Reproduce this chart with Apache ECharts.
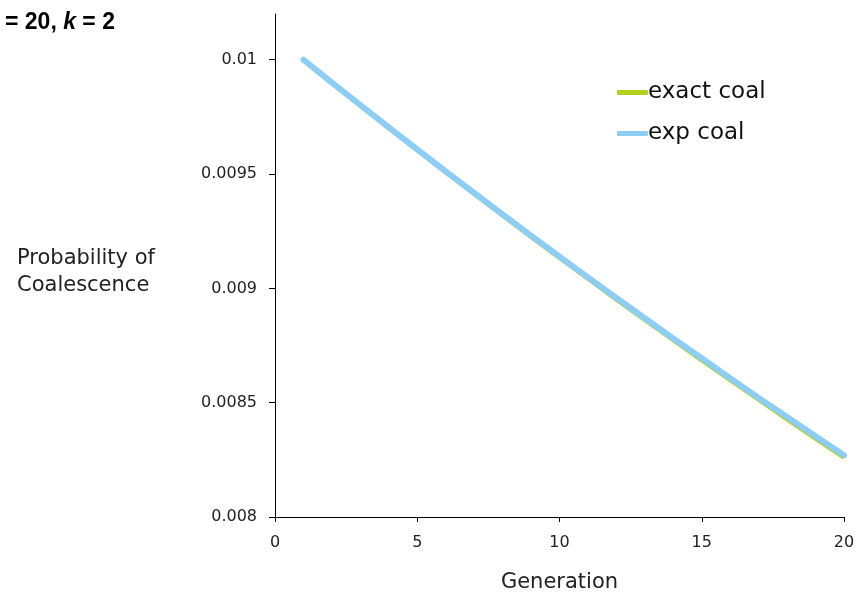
<!DOCTYPE html>
<html><head><meta charset="utf-8">
<script src="https://cdn.jsdelivr.net/npm/echarts@6/dist/echarts.min.js"></script>
<style>html,body{margin:0;padding:0;background:#fff}#c{width:858px;height:599px}</style>
</head><body><div id="c"></div>
<script>
const generations = [1,2,3,4,5,6,7,8,9,10,11,12,13,14,15,16,17,18,19,20];
const exactCoal = [0.01,0.0099,0.009801,0.009703,0.009606,0.00951,0.009415,0.009321,0.009227,0.009135,0.009044,0.008953,0.008864,0.008775,0.008687,0.008601,0.008515,0.008429,0.008345,0.008262];
const expCoal = [0.01,0.0099,0.009802,0.009704,0.009608,0.009512,0.009418,0.009324,0.009231,0.009139,0.009048,0.008958,0.008869,0.008781,0.008694,0.008607,0.008521,0.008437,0.008353,0.00827];
const yTicks = [0.008,0.0085,0.009,0.0095,0.01];
const FONT = 'DejaVu Sans';
const chart = echarts.init(document.getElementById('c'));
chart.setOption({
  animation:false,
  title:{left:0,top:6,text:'{a|= 20, }{b|k}{a| = 2}',textStyle:{rich:{
    a:{fontFamily:'Liberation Sans',fontWeight:'bold',fontSize:23,color:'#000'},
    b:{fontFamily:'Liberation Sans',fontWeight:'bold',fontStyle:'italic',fontSize:23,color:'#000'}}}},
  grid:{left:275,right:14,top:14,bottom:82,containLabel:false,outerBoundsMode:'none'},
  legend:{orient:'vertical',left:612,top:76,itemWidth:31,itemHeight:5,itemGap:18,icon:'roundRect',
    textStyle:{fontFamily:FONT,fontSize:23,color:'#111',padding:[0,0,0,-5]},
    data:['exact coal','exp coal']},
  xAxis:{type:'value',min:0,max:20,interval:5,
    name:'Generation',nameLocation:'middle',nameGap:55,
    nameTextStyle:{fontFamily:FONT,fontSize:21,color:'#222'},
    axisLine:{lineStyle:{color:'#000',width:1}},
    axisTick:{show:true,length:5,lineStyle:{color:'#000'}},
    axisLabel:{fontFamily:FONT,fontSize:16,color:'#222',margin:18},
    splitLine:{show:false}},
  yAxis:{type:'value',min:0.008,max:0.0102,interval:0.0005,
    axisLine:{show:true,lineStyle:{color:'#000',width:1}},
    axisTick:{show:true,length:6,lineStyle:{color:'#000'},customValues:yTicks},
    axisLabel:{fontFamily:FONT,fontSize:16,color:'#222',margin:18,customValues:yTicks,
      formatter:v=>String(+v.toFixed(4))},
    splitLine:{show:false}},
  graphic:[{type:'text',left:17,top:245,style:{text:'Probability of\nCoalescence',
    fontFamily:FONT,fontSize:21,lineHeight:27,fill:'#222',align:'left'}}],
  series:[
    {name:'exact coal',type:'line',data:generations.map((g,i)=>[g,exactCoal[i]]),
      showSymbol:false,lineStyle:{color:'#b3d119',width:5},itemStyle:{color:'#b3d119'}},
    {name:'exp coal',type:'line',data:generations.map((g,i)=>[g,expCoal[i]]),
      showSymbol:false,lineStyle:{color:'#8ecdf4',width:6,cap:'round'},itemStyle:{color:'#8ecdf4'}}
  ]
});
</script></body></html>
